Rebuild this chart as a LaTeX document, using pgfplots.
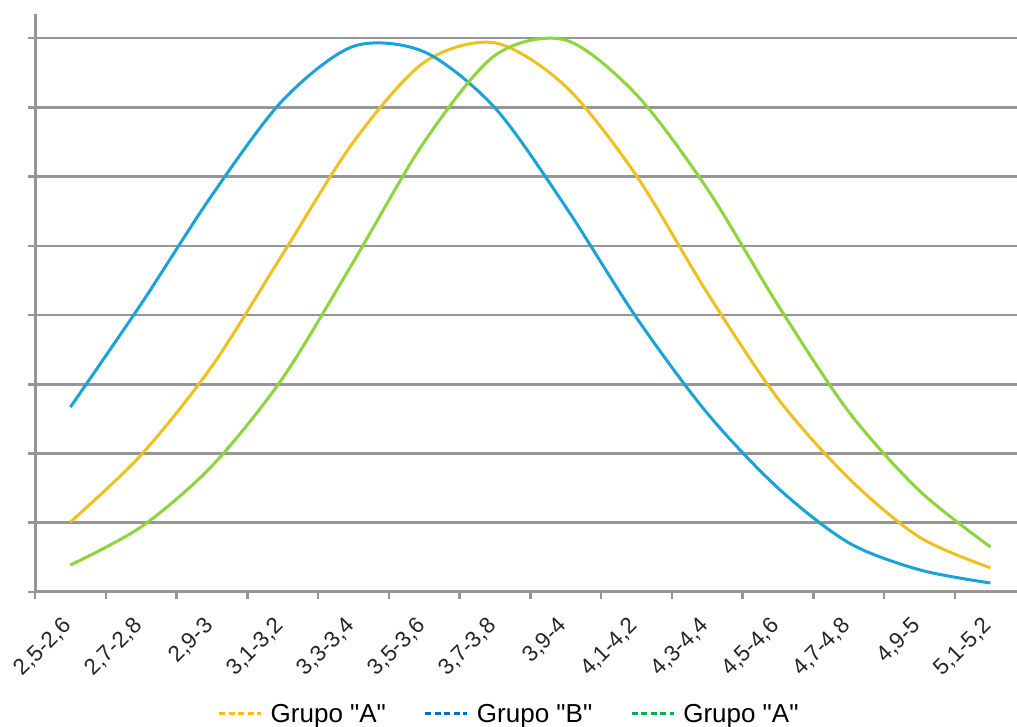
\documentclass[border=0pt]{standalone}
\usepackage{pgfplots}
\pgfplotsset{compat=1.18}
\usepackage{fontspec}
\setmainfont{Liberation Sans}
\newfontfamily\lsans{Liberation Sans}
\definecolor{cA}{RGB}{240,192,30}
\definecolor{cB}{RGB}{27,163,215}
\definecolor{cC}{RGB}{140,214,60}
\definecolor{lA}{RGB}{255,192,0}
\definecolor{lB}{RGB}{0,112,192}
\definecolor{lC}{RGB}{0,176,80}
\definecolor{gridc}{RGB}{150,150,150}
\begin{document}
\begin{tikzpicture}
\begin{axis}[
  at={(35pt,135pt)}, anchor=south west,
  scale only axis, width=983.7pt, height=578.2pt,
  xmin=-0.5, xmax=13.4, ymin=0, ymax=8.35,
  axis x line=bottom, axis y line=left,
  axis line style={gridc, line width=3pt, -},
  xtick={0,...,13},
  xticklabels={{2,5-2,6},{2,7-2,8},{2,9-3},{3,1-3,2},{3,3-3,4},{3,5-3,6},{3,7-3,8},{3,9-4},{4,1-4,2},{4,3-4,4},{4,5-4,6},{4,7-4,8},{4,9-5},{5,1-5,2}},
  minor xtick={-0.5,0.5,...,12.5},
  ytick={0,...,8}, yticklabels={,,,,,,,,},
  tick align=outside, major tick length=7pt, minor tick length=7pt,
  tick style={gridc, line width=2.5pt},
  major x tick style={draw=none},
  ymajorgrids, grid style={gridc, line width=2.5pt},
  xticklabel style={rotate=45, anchor=east, font=\lsans\fontsize{22.5}{26}\selectfont, text=black!85},
  xticklabel shift=21pt,
  legend columns=3,
  legend style={at={(0.482,-0.211)}, anchor=center, draw=none, fill=none,
    font=\lsans\fontsize{26}{30}\selectfont,
    /tikz/every odd column/.append style={column sep=6pt},
    /tikz/every even column/.append style={column sep=36pt}},
  legend image code/.code={\draw[#1, line width=3pt, dash pattern=on 6pt off 3.5pt] (0pt,0pt) -- (42pt,0pt);},
]
\addlegendimage{lA}
\addlegendentry{Grupo "A"}
\addlegendimage{lB}
\addlegendentry{Grupo "B"}
\addlegendimage{lC}
\addlegendentry{Grupo "A"}
\addplot[forget plot, cA, line width=3pt, smooth] table {
x y
0 1.01
1 1.98
2 3.26
3 4.88
4 6.50
5 7.65
6 7.93
7 7.30
8 6.01
9 4.32
10 2.79
11 1.64
12 0.79
13 0.35
};
\addplot[forget plot, cB, line width=3pt, smooth] table {
x y
0 2.67
1 4.16
2 5.73
3 7.10
4 7.88
5 7.80
6 6.99
7 5.56
8 3.96
9 2.58
10 1.50
11 0.71
12 0.32
13 0.13
};
\addplot[forget plot, cC, line width=3pt, smooth] table {
x y
0 0.39
1 0.94
2 1.82
3 3.09
4 4.77
5 6.50
6 7.75
7 7.97
8 7.18
9 5.82
10 4.14
11 2.60
12 1.46
13 0.65
};
\end{axis}
\pgfresetboundingbox
\useasboundingbox (0,0) rectangle (1017pt,727pt);
\end{tikzpicture}
\end{document}
